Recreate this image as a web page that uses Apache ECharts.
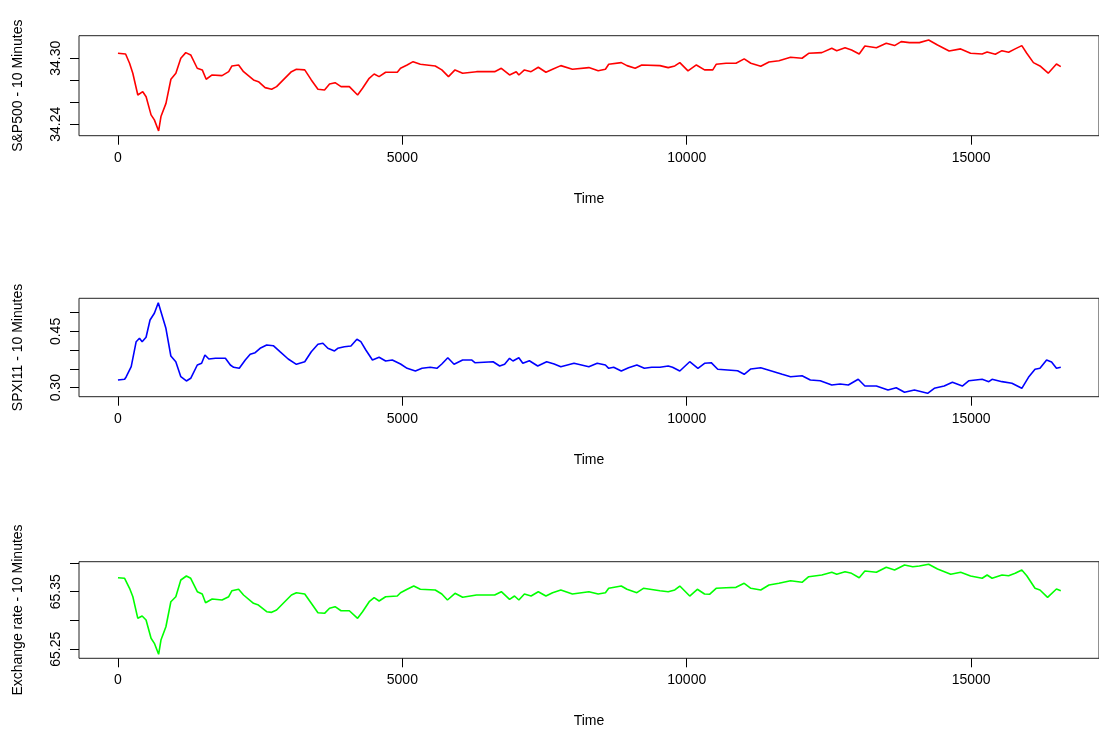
<!DOCTYPE html>
<html>
<head>
<meta charset="utf-8">
<script src="https://cdn.jsdelivr.net/npm/echarts@6/dist/echarts.min.js"></script>
<style>
html,body{margin:0;padding:0;background:#fff;}
#chart{width:1099px;height:731px;}
</style>
</head>
<body>
<div id="chart"></div>
<script>
// ---- Data ----
const xTicks = [0, 5000, 10000, 15000];

const spTime = [0,134,204,261,349,436,495,582,640,715,
  756,844,931,1018,1105,1192,1279,1394,1482,1551,
  1656,1830,1947,2004,2121,2208,2383,2470,2587,2702,
  2789,2906,3050,3137,3284,3399,3516,3632,3720,3817,
  3922,4068,4213,4300,4417,4504,4591,4706,4911,4968,
  5084,5189,5316,5578,5694,5811,5926,6060,6304,6623,
  6740,6885,7002,7048,7146,7263,7390,7524,7641,7786,
  7990,8279,8443,8570,8628,8849,8949,9093,9210,9529,
  9674,9790,9878,10022,10169,10313,10458,10517,10692,10866,
  11010,11127,11301,11446,11621,11825,12027,12144,12375,12550,
  12637,12783,12898,13032,13132,13334,13508,13654,13770,13916,
  14090,14253,14409,14613,14816,14990,15194,15281,15425,15542,
  15659,15774,15891,15978,16095,16210,16355,16500,16576];
const spValues = [34.3045,34.3039,34.2955,34.2864,34.2666,34.2696,34.2650,34.2485,34.2440,34.2339,
  34.2470,34.2590,34.2809,34.2864,34.3000,34.3051,34.3030,34.2909,34.2894,34.2809,
  34.2848,34.2842,34.2878,34.2930,34.2939,34.2878,34.2803,34.2787,34.2733,34.2718,
  34.2742,34.2803,34.2878,34.2900,34.2894,34.2803,34.2718,34.2712,34.2766,34.2778,
  34.2742,34.2742,34.2666,34.2727,34.2818,34.2857,34.2833,34.2873,34.2873,34.2909,
  34.2939,34.2969,34.2945,34.2930,34.2894,34.2833,34.2894,34.2864,34.2878,34.2878,
  34.2909,34.2848,34.2878,34.2848,34.2894,34.2878,34.2918,34.2873,34.2900,34.2933,
  34.2900,34.2915,34.2887,34.2900,34.2945,34.2960,34.2933,34.2909,34.2939,34.2933,
  34.2915,34.2930,34.2960,34.2885,34.2939,34.2894,34.2894,34.2945,34.2955,34.2955,
  34.2994,34.2955,34.2927,34.2966,34.2978,34.3009,34.3000,34.3045,34.3051,34.3091,
  34.3069,34.3096,34.3075,34.3039,34.3112,34.3096,34.3136,34.3115,34.3151,34.3142,
  34.3142,34.3166,34.3121,34.3066,34.3085,34.3045,34.3039,34.3057,34.3036,34.3069,
  34.3055,34.3085,34.3115,34.3045,34.2960,34.2930,34.2864,34.2948,34.2924];

const spxTime = [0,117,146,233,320,378,425,494,564,640,
  709,756,843,930,1017,1105,1203,1279,1395,1471,
  1529,1598,1715,1889,1976,2034,2133,2238,2325,2412,
  2499,2615,2731,2848,2993,3137,3284,3399,3516,3603,
  3690,3807,3864,3981,4096,4201,4270,4358,4474,4591,
  4706,4823,4968,5084,5229,5346,5490,5607,5694,5799,
  5909,6060,6217,6275,6595,6711,6798,6885,6944,7048,
  7118,7233,7380,7537,7669,7786,8018,8279,8426,8570,
  8628,8715,8849,8977,9123,9255,9384,9529,9674,9750,
  9878,10052,10197,10313,10430,10545,10719,10894,11010,11127,
  11301,11533,11678,11825,12027,12173,12347,12550,12696,12841,
  13015,13132,13334,13538,13683,13829,14003,14235,14352,14526,
  14671,14845,14962,15194,15311,15368,15543,15717,15891,16008,
  16123,16210,16327,16414,16500,16576];
const spxValues = [0.3205,0.3224,0.3293,0.3560,0.4227,0.4317,0.4227,0.4344,0.4805,0.4984,
  0.5267,0.5027,0.4584,0.3845,0.3693,0.3293,0.3179,0.3251,0.3605,0.3651,
  0.3872,0.3765,0.3784,0.3784,0.3605,0.3544,0.3517,0.3739,0.3891,0.3933,
  0.4051,0.4139,0.4120,0.3960,0.3765,0.3624,0.3693,0.3960,0.4157,0.4184,
  0.4051,0.3979,0.4051,0.4093,0.4112,0.4291,0.4227,0.4005,0.3739,0.3811,
  0.3712,0.3739,0.3632,0.3517,0.3445,0.3517,0.3544,0.3517,0.3632,0.3800,
  0.3624,0.3739,0.3739,0.3667,0.3693,0.3579,0.3624,0.3784,0.3712,0.3800,
  0.3651,0.3720,0.3579,0.3693,0.3632,0.3560,0.3651,0.3560,0.3651,0.3605,
  0.3517,0.3544,0.3445,0.3533,0.3605,0.3517,0.3544,0.3544,0.3579,0.3544,
  0.3445,0.3693,0.3517,0.3651,0.3667,0.3491,0.3472,0.3453,0.3357,0.3499,
  0.3533,0.3427,0.3357,0.3293,0.3320,0.3205,0.3187,0.3072,0.3099,0.3072,
  0.3224,0.3045,0.3045,0.2939,0.3000,0.2877,0.2939,0.2851,0.2984,0.3045,
  0.3144,0.3045,0.3187,0.3224,0.3161,0.3224,0.3161,0.3117,0.2984,0.3277,
  0.3491,0.3517,0.3739,0.3686,0.3517,0.3544];

const fxTime = [0,117,204,262,349,425,494,582,640,715,
  756,843,930,1017,1105,1203,1279,1395,1482,1540,
  1656,1830,1947,2004,2121,2208,2383,2470,2615,2702,
  2789,2906,3050,3137,3284,3399,3516,3632,3720,3817,
  3922,4068,4213,4300,4417,4504,4591,4706,
  4911,4968,5084,5201,5316,5578,5694,5793,5926,6060,
  6304,6623,6740,6885,6972,7048,7146,7263,7390,7524,
  7641,7786,7990,8279,8443,8570,8628,8849,8949,9123,
  9238,9529,9674,9790,9878,10052,10186,10313,10400,10517,
  10692,10866,11010,11127,11301,
  11446,11621,11825,12027,12144,12375,12550,12637,12783,12898,
  13032,13132,13334,13508,13654,13829,13974,14090,14253,14409,
  14641,14816,14990,15194,15281,15368,15543,15659,15774,15891,
  15978,16123,16210,16344,16500,16576];
const fxValues = [65.3743,65.3733,65.3559,65.3413,65.3038,65.3078,65.3009,65.2691,65.2604,65.2413,
  65.2661,65.2892,65.3326,65.3413,65.3703,65.3773,65.3733,65.3500,65.3460,65.3309,
  65.3373,65.3356,65.3413,65.3517,65.3542,65.3443,65.3299,65.3269,65.3153,65.3142,
  65.3182,65.3299,65.3443,65.3483,65.3460,65.3299,65.3135,65.3125,65.3212,65.3240,
  65.3170,65.3170,65.3038,65.3153,65.3326,65.3396,65.3339,65.3413,
  65.3425,65.3483,65.3542,65.3599,65.3542,65.3530,65.3460,65.3356,65.3472,65.3403,
  65.3443,65.3443,65.3500,65.3368,65.3425,65.3356,65.3460,65.3425,65.3500,65.3425,
  65.3483,65.3530,65.3460,65.3500,65.3460,65.3483,65.3559,65.3599,65.3542,65.3483,
  65.3559,65.3517,65.3500,65.3530,65.3599,65.3425,65.3542,65.3460,65.3455,65.3559,
  65.3570,65.3576,65.3646,65.3559,65.3530,
  65.3616,65.3646,65.3691,65.3663,65.3760,65.3790,65.3837,65.3802,65.3847,65.3819,
  65.3743,65.3859,65.3837,65.3924,65.3877,65.3964,65.3934,65.3946,65.3976,65.3894,
  65.3802,65.3837,65.3773,65.3733,65.3790,65.3733,65.3790,65.3778,65.3819,65.3877,
  65.3778,65.3559,65.3530,65.3403,65.3547,65.3517];

const spTicks = [34.24, 34.26, 34.28, 34.30];
const spLabels = [34.24, 34.30];
const spxTicks = [0.30, 0.35, 0.40, 0.45, 0.50];
const spxLabels = [0.30, 0.45];
const fxTicks = [65.25, 65.30, 65.35, 65.40];
const fxLabels = [65.25, 65.35];

const yNames = ['S&P500 - 10 Minutes', 'SPXI11 - 10 Minutes', 'Exchange rate - 10 Minutes'];
const colors = ['#ff0000', '#0000ff', '#00ff00'];

// ---- Build chart ----
function zip(t, v) {
  const n = Math.min(t.length, v.length);
  const out = [];
  for (let i = 0; i < n; i++) out.push([t[i], v[i]]);
  return out;
}

const FONT = '"Liberation Sans", Arial, sans-serif';
const panels = [
  {top: 35.7, height: 100, ymin: 34.2296, ymax: 34.3205, ticks: spTicks, labels: spLabels, data: zip(spTime, spValues)},
  {top: 298.3, height: 98.4, ymin: 0.2760, ymax: 0.5384, ticks: spxTicks, labels: spxLabels, data: zip(spxTime, spxValues)},
  {top: 561.7, height: 96.6, ymin: 65.2344, ymax: 65.4021, ticks: fxTicks, labels: fxLabels, data: zip(fxTime, fxValues)}
];

const grid = [], xAxis = [], yAxis = [], series = [];
panels.forEach((p, i) => {
  grid.push({left: 79, top: p.top, width: 1029, height: p.height, show: true,
    borderColor: '#222', borderWidth: 1, backgroundColor: 'transparent', containLabel: false});
  xAxis.push({
    type: 'value', gridIndex: i, min: -685, max: 17248, position: 'bottom',
    name: 'Time', nameLocation: 'middle', nameGap: 56,
    nameTextStyle: {fontFamily: FONT, fontSize: 14, color: '#000'},
    axisLine: {show: false, onZero: false},
    axisTick: {show: true, length: 9, customValues: xTicks, lineStyle: {color: '#000', width: 1}},
    axisLabel: {show: true, customValues: xTicks, margin: 15, fontFamily: FONT, fontSize: 14, color: '#000',
      formatter: v => String(Math.round(v))},
    splitLine: {show: false}
  });
  yAxis.push({
    type: 'value', gridIndex: i, min: p.ymin, max: p.ymax, position: 'left',
    name: yNames[i], nameLocation: 'middle', nameGap: 54, nameRotate: 90,
    nameTextStyle: {fontFamily: FONT, fontSize: 14, color: '#000'},
    axisLine: {show: false, onZero: false},
    axisTick: {show: true, length: 9, customValues: p.ticks, lineStyle: {color: '#000', width: 1}},
    axisLabel: {show: true, customValues: p.labels, rotate: 90, margin: 16, fontFamily: FONT, fontSize: 14, color: '#000',
      formatter: v => Number(v).toFixed(2)},
    splitLine: {show: false}
  });
  series.push({
    type: 'line', xAxisIndex: i, yAxisIndex: i, data: p.data,
    showSymbol: false, symbol: 'none', animation: false,
    lineStyle: {color: colors[i], width: 1.6}
  });
});

const chart = echarts.init(document.getElementById('chart'), null, {renderer: 'canvas'});
chart.setOption({animation: false, backgroundColor: '#fff', grid, xAxis, yAxis, series});
</script>
</body>
</html>
